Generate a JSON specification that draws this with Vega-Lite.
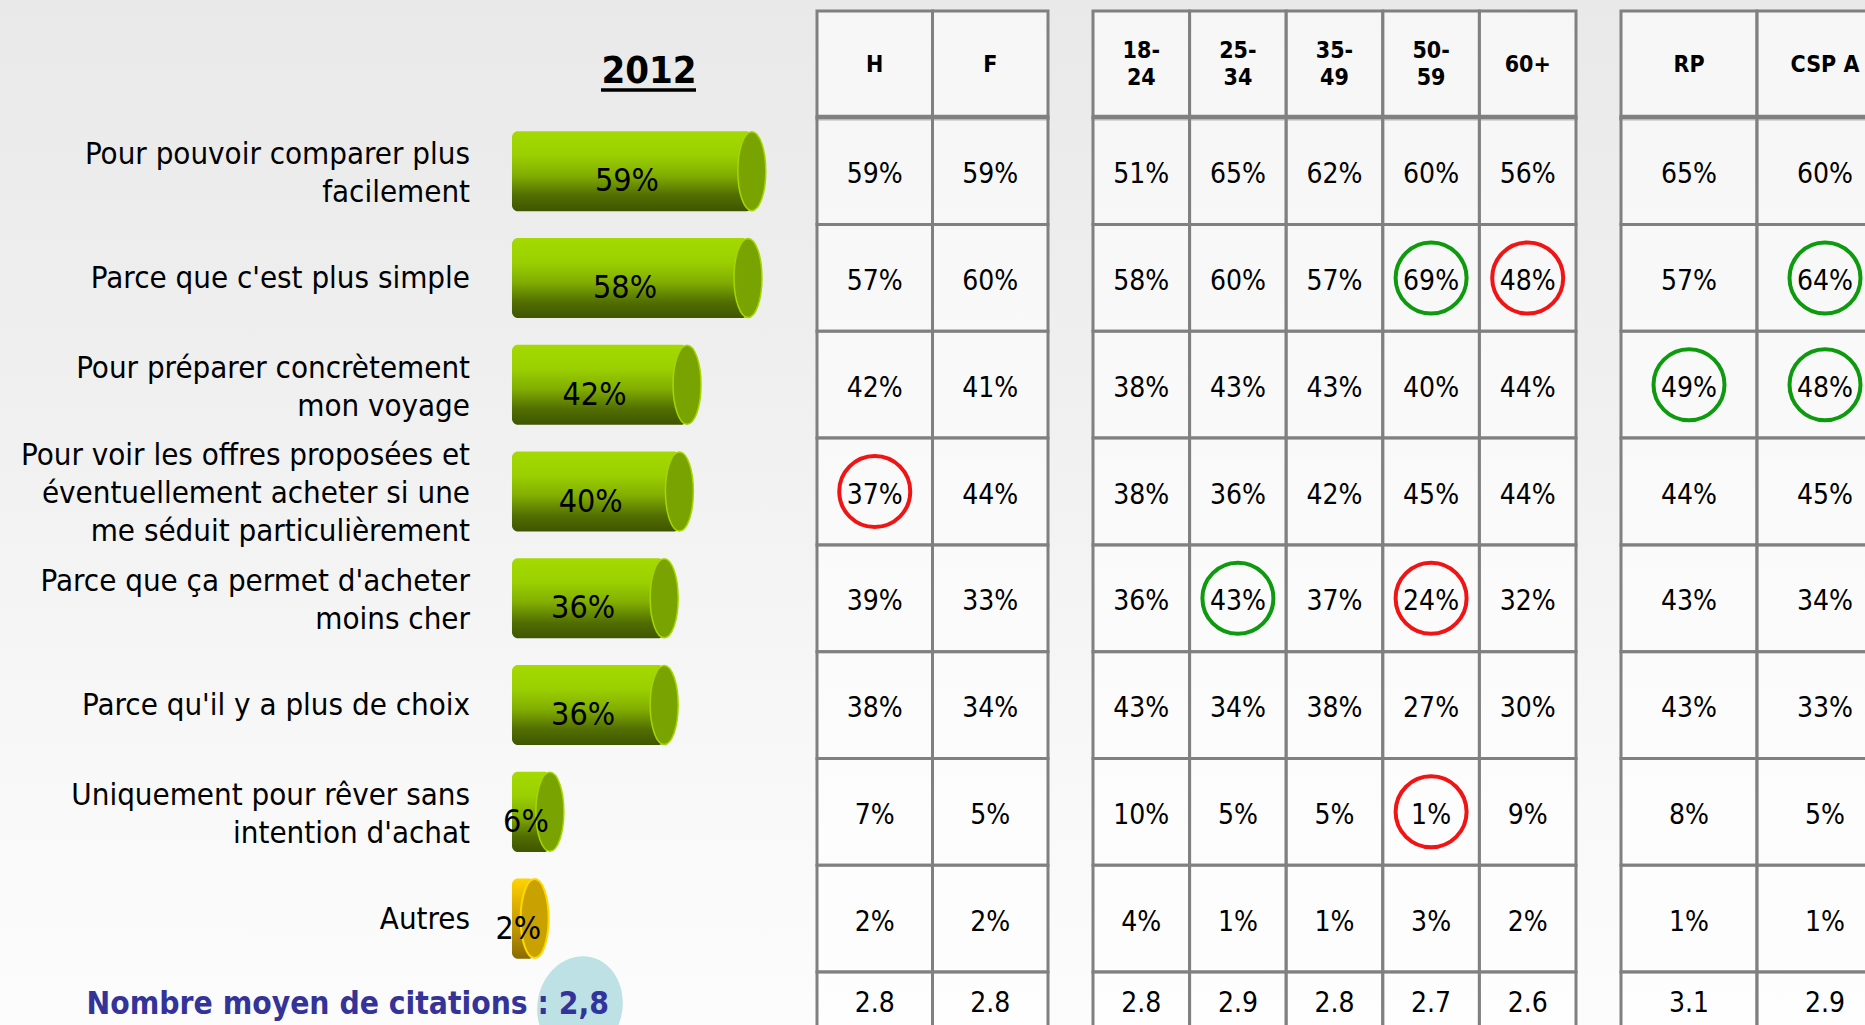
{
"$schema": "https://vega.github.io/schema/vega-lite/v6.json",
"width": 1865, "height": 1025, "padding": 0,
"autosize": {"type": "none"},
"background": "#f0f0f0",
"view": {"stroke": null, "fill": {"gradient": "linear", "x1": 0, "y1": 0, "x2": 0, "y2": 1, "stops": [{"offset": 0, "color": "#e9e9e9"}, {"offset": 0.35, "color": "#efefef"}, {"offset": 0.75, "color": "#f8f8f8"}, {"offset": 1, "color": "#fcfcfc"}]}},
"config": {"font": "DejaVu Sans Condensed", "text": {"font": "DejaVu Sans Condensed"}},
"datasets": {
 "bars": [
  {"q": "q1", "label": "Pour pouvoir comparer plus\nfacilement", "v": 0.59},
  {"q": "q2", "label": "Parce que c'est plus simple", "v": 0.58},
  {"q": "q3", "label": "Pour préparer concrètement\nmon voyage", "v": 0.42},
  {"q": "q4", "label": "Pour voir les offres proposées et\néventuellement acheter si une\nme séduit particulièrement", "v": 0.40},
  {"q": "q5", "label": "Parce que ça permet d'acheter\nmoins cher", "v": 0.36},
  {"q": "q6", "label": "Parce qu'il y a plus de choix", "v": 0.36},
  {"q": "q7", "label": "Uniquement pour rêver sans\nintention d'achat", "v": 0.06},
  {"q": "q8", "label": "Autres", "v": 0.02}
 ],
 "title": [{"label": "2012"}],
 "summary": [{"label": "Nombre moyen de citations : 2,8", "v": 2.8}],
 "head": [
  {"col": "H", "label": "H"}, {"col": "F", "label": "F"},
  {"col": "18-24", "label": "18-\n24"}, {"col": "25-34", "label": "25-\n34"}, {"col": "35-49", "label": "35-\n49"}, {"col": "50-59", "label": "50-\n59"}, {"col": "60+", "label": "60+"},
  {"col": "RP", "label": "RP"}, {"col": "CSP A", "label": "CSP A"}
 ],
 "moy": [
  {"col": "H", "v": 2.8}, {"col": "F", "v": 2.8},
  {"col": "18-24", "v": 2.8}, {"col": "25-34", "v": 2.9}, {"col": "35-49", "v": 2.8}, {"col": "50-59", "v": 2.7}, {"col": "60+", "v": 2.6},
  {"col": "RP", "v": 3.1}, {"col": "CSP A", "v": 2.9}
 ],
 "cells": [
  {"q": "q1", "col": "H", "v": 0.59}, {"q": "q1", "col": "F", "v": 0.59}, {"q": "q1", "col": "18-24", "v": 0.51}, {"q": "q1", "col": "25-34", "v": 0.65}, {"q": "q1", "col": "35-49", "v": 0.62}, {"q": "q1", "col": "50-59", "v": 0.60}, {"q": "q1", "col": "60+", "v": 0.56}, {"q": "q1", "col": "RP", "v": 0.65}, {"q": "q1", "col": "CSP A", "v": 0.60},
  {"q": "q2", "col": "H", "v": 0.57}, {"q": "q2", "col": "F", "v": 0.60}, {"q": "q2", "col": "18-24", "v": 0.58}, {"q": "q2", "col": "25-34", "v": 0.60}, {"q": "q2", "col": "35-49", "v": 0.57}, {"q": "q2", "col": "50-59", "v": 0.69, "sig": "plus"}, {"q": "q2", "col": "60+", "v": 0.48, "sig": "moins"}, {"q": "q2", "col": "RP", "v": 0.57}, {"q": "q2", "col": "CSP A", "v": 0.64, "sig": "plus"},
  {"q": "q3", "col": "H", "v": 0.42}, {"q": "q3", "col": "F", "v": 0.41}, {"q": "q3", "col": "18-24", "v": 0.38}, {"q": "q3", "col": "25-34", "v": 0.43}, {"q": "q3", "col": "35-49", "v": 0.43}, {"q": "q3", "col": "50-59", "v": 0.40}, {"q": "q3", "col": "60+", "v": 0.44}, {"q": "q3", "col": "RP", "v": 0.49, "sig": "plus"}, {"q": "q3", "col": "CSP A", "v": 0.48, "sig": "plus"},
  {"q": "q4", "col": "H", "v": 0.37, "sig": "moins"}, {"q": "q4", "col": "F", "v": 0.44}, {"q": "q4", "col": "18-24", "v": 0.38}, {"q": "q4", "col": "25-34", "v": 0.36}, {"q": "q4", "col": "35-49", "v": 0.42}, {"q": "q4", "col": "50-59", "v": 0.45}, {"q": "q4", "col": "60+", "v": 0.44}, {"q": "q4", "col": "RP", "v": 0.44}, {"q": "q4", "col": "CSP A", "v": 0.45},
  {"q": "q5", "col": "H", "v": 0.39}, {"q": "q5", "col": "F", "v": 0.33}, {"q": "q5", "col": "18-24", "v": 0.36}, {"q": "q5", "col": "25-34", "v": 0.43, "sig": "plus"}, {"q": "q5", "col": "35-49", "v": 0.37}, {"q": "q5", "col": "50-59", "v": 0.24, "sig": "moins"}, {"q": "q5", "col": "60+", "v": 0.32}, {"q": "q5", "col": "RP", "v": 0.43}, {"q": "q5", "col": "CSP A", "v": 0.34},
  {"q": "q6", "col": "H", "v": 0.38}, {"q": "q6", "col": "F", "v": 0.34}, {"q": "q6", "col": "18-24", "v": 0.43}, {"q": "q6", "col": "25-34", "v": 0.34}, {"q": "q6", "col": "35-49", "v": 0.38}, {"q": "q6", "col": "50-59", "v": 0.27}, {"q": "q6", "col": "60+", "v": 0.30}, {"q": "q6", "col": "RP", "v": 0.43}, {"q": "q6", "col": "CSP A", "v": 0.33},
  {"q": "q7", "col": "H", "v": 0.07}, {"q": "q7", "col": "F", "v": 0.05}, {"q": "q7", "col": "18-24", "v": 0.10}, {"q": "q7", "col": "25-34", "v": 0.05}, {"q": "q7", "col": "35-49", "v": 0.05}, {"q": "q7", "col": "50-59", "v": 0.01, "sig": "moins"}, {"q": "q7", "col": "60+", "v": 0.09}, {"q": "q7", "col": "RP", "v": 0.08}, {"q": "q7", "col": "CSP A", "v": 0.05},
  {"q": "q8", "col": "H", "v": 0.02}, {"q": "q8", "col": "F", "v": 0.02}, {"q": "q8", "col": "18-24", "v": 0.04}, {"q": "q8", "col": "25-34", "v": 0.01}, {"q": "q8", "col": "35-49", "v": 0.01}, {"q": "q8", "col": "50-59", "v": 0.03}, {"q": "q8", "col": "60+", "v": 0.02}, {"q": "q8", "col": "RP", "v": 0.01}, {"q": "q8", "col": "CSP A", "v": 0.01}
 ]
},
"layer": [
 {
  "layer": [
   {
    "layer": [
     {"data": {"name": "bars"}, "transform": [{"filter": "datum.q !== 'q8'"}],
      "mark": {"type": "bar", "height": {"band": 0.75}, "cornerRadius": 6, "fill": {"gradient": "linear", "x1": 0, "y1": 0, "x2": 0, "y2": 1, "stops": [{"offset": 0, "color": "#a4da00"}, {"offset": 0.3, "color": "#9bd000"}, {"offset": 0.55, "color": "#82ae00"}, {"offset": 0.8, "color": "#526f00"}, {"offset": 1, "color": "#3f5500"}]}},
      "encoding": {
       "y": {"field": "q", "type": "nominal", "axis": null, "scale": {"domain": ["header", "q1", "q2", "q3", "q4", "q5", "q6", "q7", "q8"], "range": [11, 972], "paddingInner": 0, "paddingOuter": 0}},
       "x": {"field": "v", "type": "quantitative", "axis": null, "scale": {"domain": [-1.3832, 3.51181], "zero": false, "nice": false}},
       "x2": {"datum": -0.0394}
      }},
     {"data": {"name": "bars"}, "transform": [{"filter": "datum.q === 'q8'"}],
      "mark": {"type": "bar", "height": {"band": 0.75}, "cornerRadius": 6, "fill": {"gradient": "linear", "x1": 0, "y1": 0, "x2": 0, "y2": 1, "stops": [{"offset": 0, "color": "#ffd400"}, {"offset": 0.3, "color": "#e2b200"}, {"offset": 0.6, "color": "#c49a00"}, {"offset": 1, "color": "#8a6a00"}]}},
      "encoding": {
       "y": {"field": "q", "type": "nominal", "axis": null},
       "x": {"field": "v", "type": "quantitative", "axis": null},
       "x2": {"datum": -0.0394}
      }},
     {"data": {"name": "bars"}, "transform": [{"filter": "datum.q !== 'q8'"}],
      "mark": {"type": "point", "shape": "M0,-1A0.354,1,0,1,1,0,1A0.354,1,0,1,1,0,-1Z", "size": 6241, "filled": true, "fill": "#79a300", "stroke": "#a6d600", "strokeWidth": 1.5, "opacity": 1},
      "encoding": {
       "y": {"field": "q", "type": "nominal", "axis": null},
       "x": {"field": "v", "type": "quantitative", "axis": null}
      }},
     {"data": {"name": "bars"}, "transform": [{"filter": "datum.q === 'q8'"}],
      "mark": {"type": "point", "shape": "M0,-1A0.354,1,0,1,1,0,1A0.354,1,0,1,1,0,-1Z", "size": 6241, "filled": true, "fill": "#c9a100", "stroke": "#ffd700", "strokeWidth": 2, "opacity": 1},
      "encoding": {
       "y": {"field": "q", "type": "nominal", "axis": null},
       "x": {"field": "v", "type": "quantitative", "axis": null}
      }},
     {"data": {"name": "bars"}, "transform": [{"filter": "length(split(datum.label, '\\n')) === 1"}],
      "mark": {"type": "text", "align": "right", "baseline": "middle", "fontSize": 31, "lineHeight": 38, "lineBreak": "\n", "dy": 1, "color": "#000000"},
      "encoding": {
       "y": {"field": "q", "type": "nominal", "axis": null},
       "x": {"datum": -0.1496, "type": "quantitative"},
       "text": {"field": "label"}
      }},
     {"data": {"name": "bars"}, "transform": [{"filter": "length(split(datum.label, '\\n')) === 2"}],
      "mark": {"type": "text", "align": "right", "baseline": "middle", "fontSize": 31, "lineHeight": 38, "lineBreak": "\n", "dy": -16, "color": "#000000"},
      "encoding": {
       "y": {"field": "q", "type": "nominal", "axis": null},
       "x": {"datum": -0.1496, "type": "quantitative"},
       "text": {"field": "label"}
      }},
     {"data": {"name": "bars"}, "transform": [{"filter": "length(split(datum.label, '\\n')) === 3"}],
      "mark": {"type": "text", "align": "right", "baseline": "middle", "fontSize": 31, "lineHeight": 38, "lineBreak": "\n", "dy": -36, "color": "#000000"},
      "encoding": {
       "y": {"field": "q", "type": "nominal", "axis": null},
       "x": {"datum": -0.1496, "type": "quantitative"},
       "text": {"field": "label"}
      }},
     {"data": {"name": "title"},
      "mark": {"type": "text", "align": "center", "baseline": "middle", "fontSize": 38, "fontWeight": "bold", "dy": 8, "color": "#000000"},
      "encoding": {
       "y": {"datum": "header", "type": "nominal", "axis": null},
       "x": {"datum": 0.3202, "type": "quantitative"},
       "text": {"field": "label"}
      }},
     {"data": {"name": "title"},
      "mark": {"type": "rule", "color": "#000000", "strokeWidth": 3.5, "yOffset": 25.5},
      "encoding": {
       "y": {"datum": "header", "type": "nominal", "axis": null, "bandPosition": 0.5},
       "x": {"datum": 0.1942, "type": "quantitative"},
       "x2": {"datum": 0.4436}
      }}
    ]
   },
   {"data": {"name": "bars"},
    "mark": {"type": "text", "align": "center", "baseline": "middle", "fontSize": 32, "dx": -5, "dy": 10, "color": "#000000"},
    "encoding": {
     "y": {"field": "q", "type": "nominal", "axis": null},
     "x": {"field": "v", "type": "quantitative", "axis": null, "scale": {"domain": [-2.72703, 7.06299], "zero": false, "nice": false}},
     "text": {"field": "v", "type": "quantitative", "format": ".0%"}
    }}
  ],
  "resolve": {"scale": {"x": "independent"}}
 },
 {
  "layer": [
   {"layer": [
     {"data": {"name": "head"}, "transform": [{"filter": {"field": "col", "oneOf": ["H", "F"]}}],
      "layer": [
       {"mark": {"type": "rect", "fill": "#ffffff", "fillOpacity": 0.6, "stroke": "#808080", "strokeWidth": 3},
        "encoding": {
         "x": {"field": "col", "type": "nominal", "axis": null, "scale": {"domain": ["H", "F"], "range": [817, 1048], "paddingInner": 0, "paddingOuter": 0}},
         "y": {"datum": "header", "type": "nominal", "axis": null, "scale": {"domain": ["header", "q1", "q2", "q3", "q4", "q5", "q6", "q7", "q8"], "range": [11, 972], "paddingInner": 0, "paddingOuter": 0}}
        }},
       {"mark": {"type": "text", "fontSize": 23, "fontWeight": "bold", "lineHeight": 27, "lineBreak": "\n", "baseline": "middle", "dy": 1, "color": "#000000"},
        "encoding": {
         "x": {"field": "col", "type": "nominal", "axis": null},
         "y": {"datum": "header", "type": "nominal", "axis": null},
         "text": {"field": "label"}
        }},
       {"mark": {"type": "tick", "orient": "horizontal", "thickness": 6, "size": 118, "color": "#808080", "opacity": 1},
        "encoding": {
         "x": {"field": "col", "type": "nominal", "axis": null},
         "y": {"datum": "q1", "type": "nominal", "axis": null, "bandPosition": 0}
        }}
      ]},
     {"data": {"name": "cells"}, "transform": [{"filter": {"field": "col", "oneOf": ["H", "F"]}}],
      "layer": [
       {"mark": {"type": "rect", "fill": "#ffffff", "fillOpacity": 0.6, "stroke": "#808080", "strokeWidth": 3},
        "encoding": {
         "x": {"field": "col", "type": "nominal", "axis": null},
         "y": {"field": "q", "type": "nominal", "axis": null}
        }},
       {"mark": {"type": "text", "fontSize": 28, "baseline": "middle", "dy": 4, "color": "#000000"},
        "encoding": {
         "x": {"field": "col", "type": "nominal", "axis": null},
         "y": {"field": "q", "type": "nominal", "axis": null},
         "text": {"field": "v", "type": "quantitative", "format": ".0%"}
        }},
       {"transform": [{"filter": "datum.sig"}],
        "mark": {"type": "point", "shape": "circle", "size": 5041, "filled": false, "strokeWidth": 4, "opacity": 1},
        "encoding": {
         "x": {"field": "col", "type": "nominal", "axis": null},
         "y": {"field": "q", "type": "nominal", "axis": null},
         "stroke": {"field": "sig", "type": "nominal", "legend": null, "scale": {"domain": ["plus", "moins"], "range": ["#0e9a0e", "#f01414"]}}
        }}
      ]}
   ]},
   {"data": {"name": "moy"}, "transform": [{"filter": {"field": "col", "oneOf": ["H", "F"]}}],
    "layer": [
     {"mark": {"type": "rect", "fill": "#ffffff", "fillOpacity": 0.6, "stroke": "#808080", "strokeWidth": 3},
      "encoding": {
       "x": {"field": "col", "type": "nominal", "axis": null, "scale": {"domain": ["H", "F"], "range": [817, 1048], "paddingInner": 0, "paddingOuter": 0}},
       "y": {"datum": "moy", "type": "nominal", "axis": null, "scale": {"domain": ["moy"], "range": [972, 1034], "paddingInner": 0, "paddingOuter": 0}}
      }},
     {"mark": {"type": "text", "fontSize": 28, "baseline": "middle", "dy": 1, "color": "#000000"},
      "encoding": {
       "x": {"field": "col", "type": "nominal", "axis": null},
       "y": {"datum": "moy", "type": "nominal", "axis": null},
       "text": {"field": "v", "type": "quantitative", "format": ".1f"}
      }}
    ]}
  ],
  "resolve": {"scale": {"y": "independent"}}
 },
 {
  "layer": [
   {"layer": [
     {"data": {"name": "head"}, "transform": [{"filter": {"field": "col", "oneOf": ["18-24", "25-34", "35-49", "50-59", "60+"]}}],
      "layer": [
       {"mark": {"type": "rect", "fill": "#ffffff", "fillOpacity": 0.6, "stroke": "#808080", "strokeWidth": 3},
        "encoding": {
         "x": {"field": "col", "type": "nominal", "axis": null, "scale": {"domain": ["18-24", "25-34", "35-49", "50-59", "60+"], "range": [1093, 1576], "paddingInner": 0, "paddingOuter": 0}},
         "y": {"datum": "header", "type": "nominal", "axis": null, "scale": {"domain": ["header", "q1", "q2", "q3", "q4", "q5", "q6", "q7", "q8"], "range": [11, 972], "paddingInner": 0, "paddingOuter": 0}}
        }},
       {"transform": [{"filter": "length(split(datum.label, '\\n')) === 1"}],
        "mark": {"type": "text", "fontSize": 23, "fontWeight": "bold", "lineHeight": 27, "lineBreak": "\n", "baseline": "middle", "dy": 1, "color": "#000000"},
        "encoding": {
         "x": {"field": "col", "type": "nominal", "axis": null},
         "y": {"datum": "header", "type": "nominal", "axis": null},
         "text": {"field": "label"}
        }},
       {"transform": [{"filter": "length(split(datum.label, '\\n')) === 2"}],
        "mark": {"type": "text", "fontSize": 23, "fontWeight": "bold", "lineHeight": 27, "lineBreak": "\n", "baseline": "middle", "dy": -13, "color": "#000000"},
        "encoding": {
         "x": {"field": "col", "type": "nominal", "axis": null},
         "y": {"datum": "header", "type": "nominal", "axis": null},
         "text": {"field": "label"}
        }},
       {"mark": {"type": "tick", "orient": "horizontal", "thickness": 6, "size": 99, "color": "#808080", "opacity": 1},
        "encoding": {
         "x": {"field": "col", "type": "nominal", "axis": null},
         "y": {"datum": "q1", "type": "nominal", "axis": null, "bandPosition": 0}
        }}
      ]},
     {"data": {"name": "cells"}, "transform": [{"filter": {"field": "col", "oneOf": ["18-24", "25-34", "35-49", "50-59", "60+"]}}],
      "layer": [
       {"mark": {"type": "rect", "fill": "#ffffff", "fillOpacity": 0.6, "stroke": "#808080", "strokeWidth": 3},
        "encoding": {
         "x": {"field": "col", "type": "nominal", "axis": null},
         "y": {"field": "q", "type": "nominal", "axis": null}
        }},
       {"mark": {"type": "text", "fontSize": 28, "baseline": "middle", "dy": 4, "color": "#000000"},
        "encoding": {
         "x": {"field": "col", "type": "nominal", "axis": null},
         "y": {"field": "q", "type": "nominal", "axis": null},
         "text": {"field": "v", "type": "quantitative", "format": ".0%"}
        }},
       {"transform": [{"filter": "datum.sig"}],
        "mark": {"type": "point", "shape": "circle", "size": 5041, "filled": false, "strokeWidth": 4, "opacity": 1},
        "encoding": {
         "x": {"field": "col", "type": "nominal", "axis": null},
         "y": {"field": "q", "type": "nominal", "axis": null},
         "stroke": {"field": "sig", "type": "nominal", "legend": null, "scale": {"domain": ["plus", "moins"], "range": ["#0e9a0e", "#f01414"]}}
        }}
      ]}
   ]},
   {"data": {"name": "moy"}, "transform": [{"filter": {"field": "col", "oneOf": ["18-24", "25-34", "35-49", "50-59", "60+"]}}],
    "layer": [
     {"mark": {"type": "rect", "fill": "#ffffff", "fillOpacity": 0.6, "stroke": "#808080", "strokeWidth": 3},
      "encoding": {
       "x": {"field": "col", "type": "nominal", "axis": null, "scale": {"domain": ["18-24", "25-34", "35-49", "50-59", "60+"], "range": [1093, 1576], "paddingInner": 0, "paddingOuter": 0}},
       "y": {"datum": "moy", "type": "nominal", "axis": null, "scale": {"domain": ["moy"], "range": [972, 1034], "paddingInner": 0, "paddingOuter": 0}}
      }},
     {"mark": {"type": "text", "fontSize": 28, "baseline": "middle", "dy": 1, "color": "#000000"},
      "encoding": {
       "x": {"field": "col", "type": "nominal", "axis": null},
       "y": {"datum": "moy", "type": "nominal", "axis": null},
       "text": {"field": "v", "type": "quantitative", "format": ".1f"}
      }}
    ]}
  ],
  "resolve": {"scale": {"y": "independent"}}
 },
 {
  "layer": [
   {"layer": [
     {"data": {"name": "head"}, "transform": [{"filter": {"field": "col", "oneOf": ["RP", "CSP A"]}}],
      "layer": [
       {"mark": {"type": "rect", "fill": "#ffffff", "fillOpacity": 0.6, "stroke": "#808080", "strokeWidth": 3},
        "encoding": {
         "x": {"field": "col", "type": "nominal", "axis": null, "scale": {"domain": ["RP", "CSP A"], "range": [1621, 1893], "paddingInner": 0, "paddingOuter": 0}},
         "y": {"datum": "header", "type": "nominal", "axis": null, "scale": {"domain": ["header", "q1", "q2", "q3", "q4", "q5", "q6", "q7", "q8"], "range": [11, 972], "paddingInner": 0, "paddingOuter": 0}}
        }},
       {"mark": {"type": "text", "fontSize": 23, "fontWeight": "bold", "lineHeight": 27, "lineBreak": "\n", "baseline": "middle", "dy": 1, "color": "#000000"},
        "encoding": {
         "x": {"field": "col", "type": "nominal", "axis": null},
         "y": {"datum": "header", "type": "nominal", "axis": null},
         "text": {"field": "label"}
        }},
       {"mark": {"type": "tick", "orient": "horizontal", "thickness": 6, "size": 139, "color": "#808080", "opacity": 1},
        "encoding": {
         "x": {"field": "col", "type": "nominal", "axis": null},
         "y": {"datum": "q1", "type": "nominal", "axis": null, "bandPosition": 0}
        }}
      ]},
     {"data": {"name": "cells"}, "transform": [{"filter": {"field": "col", "oneOf": ["RP", "CSP A"]}}],
      "layer": [
       {"mark": {"type": "rect", "fill": "#ffffff", "fillOpacity": 0.6, "stroke": "#808080", "strokeWidth": 3},
        "encoding": {
         "x": {"field": "col", "type": "nominal", "axis": null},
         "y": {"field": "q", "type": "nominal", "axis": null}
        }},
       {"mark": {"type": "text", "fontSize": 28, "baseline": "middle", "dy": 4, "color": "#000000"},
        "encoding": {
         "x": {"field": "col", "type": "nominal", "axis": null},
         "y": {"field": "q", "type": "nominal", "axis": null},
         "text": {"field": "v", "type": "quantitative", "format": ".0%"}
        }},
       {"transform": [{"filter": "datum.sig"}],
        "mark": {"type": "point", "shape": "circle", "size": 5041, "filled": false, "strokeWidth": 4, "opacity": 1},
        "encoding": {
         "x": {"field": "col", "type": "nominal", "axis": null},
         "y": {"field": "q", "type": "nominal", "axis": null},
         "stroke": {"field": "sig", "type": "nominal", "legend": null, "scale": {"domain": ["plus", "moins"], "range": ["#0e9a0e", "#f01414"]}}
        }}
      ]}
   ]},
   {"data": {"name": "moy"}, "transform": [{"filter": {"field": "col", "oneOf": ["RP", "CSP A"]}}],
    "layer": [
     {"mark": {"type": "rect", "fill": "#ffffff", "fillOpacity": 0.6, "stroke": "#808080", "strokeWidth": 3},
      "encoding": {
       "x": {"field": "col", "type": "nominal", "axis": null, "scale": {"domain": ["RP", "CSP A"], "range": [1621, 1893], "paddingInner": 0, "paddingOuter": 0}},
       "y": {"datum": "moy", "type": "nominal", "axis": null, "scale": {"domain": ["moy"], "range": [972, 1034], "paddingInner": 0, "paddingOuter": 0}}
      }},
     {"mark": {"type": "text", "fontSize": 28, "baseline": "middle", "dy": 1, "color": "#000000"},
      "encoding": {
       "x": {"field": "col", "type": "nominal", "axis": null},
       "y": {"datum": "moy", "type": "nominal", "axis": null},
       "text": {"field": "v", "type": "quantitative", "format": ".1f"}
      }}
    ]}
  ],
  "resolve": {"scale": {"y": "independent"}}
 },
 {
  "data": {"name": "summary"},
  "layer": [
   {"mark": {"type": "point", "shape": "M0,-1A0.85,1,0,1,1,0,1A0.85,1,0,1,1,0,-1Z", "size": 10000, "filled": true, "fill": "#bde1e5", "opacity": 1, "strokeWidth": 0, "angle": 12, "yOffset": 3},
    "encoding": {
     "x": {"datum": 0.1391, "type": "quantitative", "axis": null, "scale": {"domain": [-1.3832, 3.51181], "zero": false, "nice": false}},
     "y": {"datum": "moy", "type": "nominal", "axis": null, "scale": {"domain": ["moy"], "range": [972, 1034], "paddingInner": 0, "paddingOuter": 0}}
    }},
   {"mark": {"type": "text", "align": "right", "baseline": "middle", "fontSize": 31.5, "fontWeight": "bold", "color": "#333399", "dy": 2},
    "encoding": {
     "x": {"datum": 0.2152, "type": "quantitative"},
     "y": {"datum": "moy", "type": "nominal"},
     "text": {"field": "label"}
    }}
  ]
 }
],
"resolve": {"scale": {"x": "independent", "y": "independent"}}
}
